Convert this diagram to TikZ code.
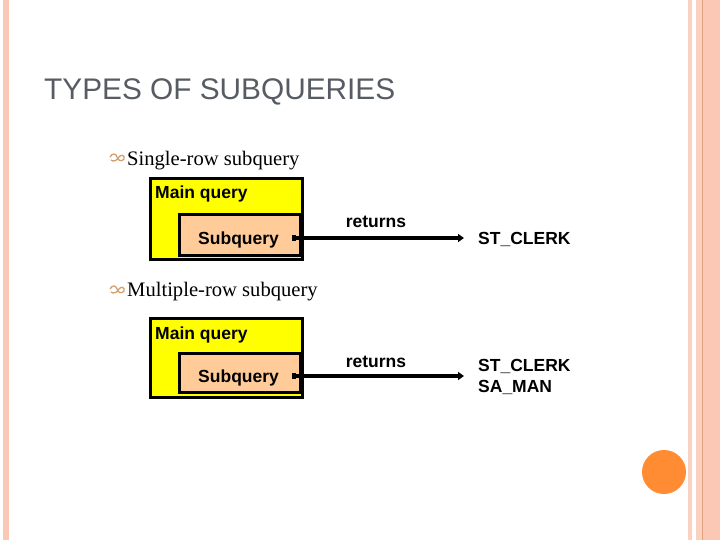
\documentclass[tikz,border=0pt]{standalone}
\usepackage{fontspec}
\setmainfont{Liberation Serif}
\newfontfamily\arialfont{Liberation Sans}
\usetikzlibrary{arrows.meta}
\definecolor{TSStripe}{HTML}{FAC8B4}
\definecolor{TSStripeLight}{HTML}{FBD2C2}
\definecolor{TSStripeDark}{HTML}{E2A27E}
\definecolor{TSTitle}{HTML}{575C64}
\definecolor{TSYellow}{HTML}{FFFF00}
\definecolor{TSPeach}{HTML}{FFCC99}
\definecolor{TSOrange}{HTML}{FF8C33}
\definecolor{TSBullet}{HTML}{D0A070}
\begin{document}
\begin{tikzpicture}[x=1pt,y=-1pt,
  mainbox/.style={draw=black,line width=3.4pt,fill=TSYellow,minimum width=152pt,inner sep=0pt},
  subbox/.style={draw=black,line width=3.4pt,fill=TSPeach,minimum width=121pt,inner sep=0pt},
  boldlabel/.style={font=\arialfont\bfseries\fontsize{17.5}{21}\selectfont,inner sep=0pt,anchor=base west},
  bullettext/.style={font=\fontsize{20.6}{24}\selectfont,inner sep=0pt,anchor=base west},
  returnline/.style={line width=3.6pt,{Square[length=4pt,width=6pt]}-{Triangle[length=6pt,width=8pt]}},
  bulletmark/.style={draw=TSBullet,line width=1.3pt}]
\path[use as bounding box] (0,0) rectangle (720,540);
% page stripes
\fill[TSStripe] (3,0) rectangle (9,540);
\fill[TSStripeLight] (688,0) rectangle (692,540);
\fill[TSStripeLight] (696,0) rectangle (720,540);
\fill[TSStripe] (703,0) rectangle (720,540);
\fill[TSStripeDark] (702,0) rectangle (703.2,540);
\fill[TSOrange] (664,472) circle[radius=22pt];
% title
\node[font=\arialfont\fontsize{29.8}{34}\selectfont,text=TSTitle,inner sep=0pt,anchor=base west] (title) at (44,100) {TYPES OF SUBQUERIES};
% single-row
\draw[bulletmark] (110,157) .. controls (112,153) and (116,153) .. (117,157) .. controls (118,161) and (122,162) .. (124,159) .. controls (125,155) and (121,154) .. (119,157) .. controls (117,161) and (113,162) .. (111,160);
\node[bullettext] (single) at (127,166) {Single-row subquery};
\node[mainbox,minimum height=81pt] (main1) at (226.5,219) {};
\node[subbox,minimum height=41pt] (sub1) at (240,235) {};
\node[boldlabel] (mainlbl1) at (155,199) {Main query};
\node[boldlabel] (sublbl1) at (198,244) {Subquery};
\node[boldlabel,anchor=base] (ret1) at (376,227) {returns};
\node[boldlabel,anchor=west,inner xsep=14pt] (out1) at (464,239) {ST\_CLERK};
\coordinate (src1) at (292,238);
\draw[returnline] (src1) -- (src1 -| out1.west);
% multiple-row
\draw[bulletmark] (110,289) .. controls (112,285) and (116,285) .. (117,289) .. controls (118,293) and (122,294) .. (124,291) .. controls (125,287) and (121,286) .. (119,289) .. controls (117,293) and (113,294) .. (111,292);
\node[bullettext] (multi) at (127,296) {Multiple-row subquery};
\node[mainbox,minimum height=79pt] (main2) at (226.5,358) {};
\node[subbox,minimum height=39pt] (sub2) at (240,373) {};
\node[boldlabel] (mainlbl2) at (155,339) {Main query};
\node[boldlabel] (sublbl2) at (198,382) {Subquery};
\node[boldlabel,anchor=base] (ret2) at (376,367) {returns};
\node[boldlabel,anchor=west,align=left,inner xsep=14pt] (out2) at (464,377) {ST\_CLERK\\SA\_MAN};
\coordinate (src2) at (292,376);
\draw[returnline] (src2) -- (src2 -| out2.west);
\end{tikzpicture}
\end{document}
